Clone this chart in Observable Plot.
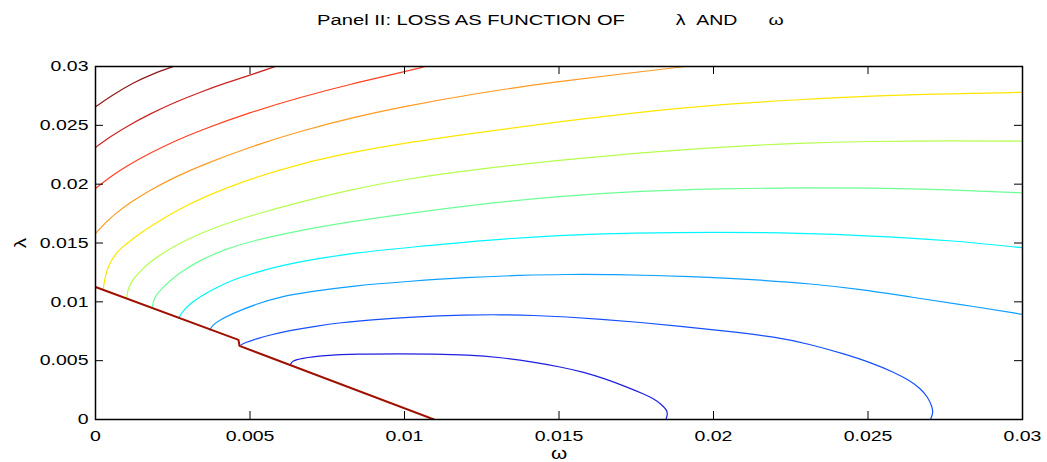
<!DOCTYPE html>
<html>
<head>
<meta charset="utf-8">
<script src="https://cdn.jsdelivr.net/npm/d3@7"></script>
<script src="https://cdn.jsdelivr.net/npm/@observablehq/plot@0.6"></script>
<style>
  html, body { margin: 0; padding: 0; background: #ffffff; }
  #chart svg { display: block; }
</style>
</head>
<body>
<div id="chart"></div>
<script>
// ---- Tick values and labels ----
const omegaTicks = [0, 0.005, 0.01, 0.015, 0.02, 0.025, 0.03];
const omegaTickLabels = ["0", "0.005", "0.01", "0.015", "0.02", "0.025", "0.03"];
const lambdaTicks = [0, 0.005, 0.01, 0.015, 0.02, 0.025, 0.03];
const lambdaTickLabels = ["0", "0.005", "0.01", "0.015", "0.02", "0.025", "0.03"];

// ---- Titles ----
const titleMain = "Panel II: LOSS AS FUNCTION OF";
const titleLambda = "λ\u00a0\u00a0AND";
const titleOmega = "ω";
const xLabel = "ω";
const yLabel = "λ";

// ---- Contour lines: [omega, lambda] ----
const contour1 = [[0, 0.026579], [0.000583, 0.027617], [0.001230, 0.028638], [0.001877, 0.029404], [0.002524, 0.03]];
const contour2 = [[0, 0.023123], [0.000485, 0.024043], [0.000971, 0.024851], [0.001780, 0.026000], [0.002589, 0.026979],
  [0.003398, 0.027830], [0.004207, 0.028596], [0.005016, 0.029277], [0.005825, 0.03]];
const contour3 = [[0, 0.019634], [0.000485, 0.020630], [0.000971, 0.021481], [0.001780, 0.022672], [0.002589, 0.023694],
  [0.003398, 0.024587], [0.005016, 0.026119], [0.006634, 0.027396], [0.008252, 0.028502], [0.010000, 0.029566], [0.010680, 0.03]];
const contour4 = [[0, 0.015804], [0.000324, 0.016740], [0.000647, 0.017506], [0.001133, 0.018459], [0.001780, 0.019515],
  [0.002589, 0.020621], [0.003398, 0.021574], [0.005016, 0.023191], [0.006634, 0.024511], [0.008252, 0.025617],
  [0.009871, 0.026553], [0.012557, 0.027830], [0.015016, 0.028732], [0.017411, 0.029489], [0.019094, 0.03]];
const contour5 = [[0.000249, 0.011064], [0.000307, 0.012085], [0.000388, 0.012809], [0.000485, 0.013387], [0.000647, 0.014043],
  [0.000809, 0.014528], [0.001133, 0.015209], [0.001456, 0.015830], [0.001780, 0.016400], [0.002589, 0.017702],
  [0.003398, 0.018809], [0.005016, 0.020468], [0.006634, 0.021745], [0.008252, 0.022681], [0.009871, 0.023447],
  [0.012557, 0.024451], [0.015016, 0.025302], [0.017411, 0.026068], [0.020227, 0.026783], [0.022816, 0.027191],
  [0.025049, 0.027498], [0.027670, 0.027694], [0.030000, 0.027804]];
const contour6 = [[0.001003, 0.010323], [0.001052, 0.011064], [0.001133, 0.011532], [0.001239, 0.011974], [0.001456, 0.012638],
  [0.001780, 0.013404], [0.002104, 0.014017], [0.002534, 0.014723], [0.003398, 0.015830], [0.004207, 0.016638],
  [0.005016, 0.017319], [0.006634, 0.018511], [0.008252, 0.019515], [0.009871, 0.020383], [0.012557, 0.021336],
  [0.015016, 0.022043], [0.017411, 0.022613], [0.020227, 0.023174], [0.022816, 0.023489], [0.025049, 0.023643],
  [0.027670, 0.023685], [0.030000, 0.023660]];
const contour7 = [[0.001835, 0.009506], [0.001877, 0.010128], [0.001974, 0.010596], [0.002104, 0.011021], [0.002427, 0.011830],
  [0.002751, 0.012511], [0.003398, 0.013574], [0.004207, 0.014468], [0.005016, 0.015149], [0.006634, 0.016085],
  [0.008252, 0.016809], [0.009871, 0.017421], [0.012557, 0.018357], [0.015016, 0.018979], [0.017411, 0.019404],
  [0.020227, 0.019634], [0.022816, 0.019702], [0.025049, 0.019685], [0.027670, 0.019532], [0.030000, 0.019260]];
const contour8 = [[0.002696, 0.008655], [0.002816, 0.009191], [0.003074, 0.009872], [0.003398, 0.010468], [0.003938, 0.011259],
  [0.004531, 0.011957], [0.005233, 0.012536], [0.005987, 0.013064], [0.006851, 0.013532], [0.008469, 0.014187],
  [0.010194, 0.014638], [0.012557, 0.015234], [0.015016, 0.015660], [0.017411, 0.015855], [0.020227, 0.015940],
  [0.022816, 0.015830], [0.025049, 0.015617], [0.027670, 0.015234], [0.030000, 0.014596]];
const contour9 = [[0.003699, 0.007600], [0.003786, 0.008000], [0.003981, 0.008383], [0.004369, 0.008936], [0.005233, 0.009847],
  [0.005987, 0.010426], [0.006851, 0.010834], [0.008469, 0.011404], [0.010032, 0.011719], [0.012029, 0.012085],
  [0.013754, 0.012255], [0.015266, 0.012340], [0.016667, 0.012323], [0.017961, 0.012255], [0.019903, 0.012085],
  [0.021521, 0.011847], [0.023139, 0.011549], [0.024757, 0.011064], [0.026375, 0.010409], [0.027994, 0.009787],
  [0.030000, 0.008936]];
const contour10 = [[0.004709, 0.006340], [0.004854, 0.006553], [0.005233, 0.006868], [0.005663, 0.007191], [0.006311, 0.007574],
  [0.007120, 0.007932], [0.007929, 0.008230], [0.008900, 0.008468], [0.010194, 0.008706], [0.012029, 0.008894],
  [0.013107, 0.008911], [0.014185, 0.008851], [0.015243, 0.008723], [0.016343, 0.008528], [0.017638, 0.008255],
  [0.018932, 0.007915], [0.020227, 0.007574], [0.022061, 0.007004], [0.023139, 0.006383], [0.024217, 0.005591],
  [0.025081, 0.004851], [0.025835, 0.004026], [0.026375, 0.003277], [0.026699, 0.002613], [0.026926, 0.001957],
  [0.027087, 0.001047], [0.027104, 0.000511], [0.027023, 0]];
const contour11 = [[0.006311, 0.004681], [0.006375, 0.004979], [0.006634, 0.005191], [0.007388, 0.005447], [0.008469, 0.005566],
  [0.009871, 0.005591], [0.010939, 0.005566], [0.012029, 0.005489], [0.013107, 0.005277], [0.014185, 0.004877],
  [0.015049, 0.004468], [0.015803, 0.004026], [0.016505, 0.003447], [0.017207, 0.002749], [0.017702, 0.002213],
  [0.018068, 0.001762], [0.018317, 0.001277], [0.018502, 0.000766], [0.018511, 0.000426], [0.018463, 0]];
const boundary = [[0, 0.011259], [0.004628, 0.006766], [0.004660, 0.006255], [0.010955, 0]];

const contours = [contour1, contour2, contour3, contour4, contour5, contour6,
  contour7, contour8, contour9, contour10, contour11];
const contourColors = ["#901818", "#cc2020", "#ff4020", "#ff9a20", "#ffe600", "#b4ff4c",
  "#6cff96", "#00f6ff", "#10a0ff", "#1450ff", "#1e1ee0"];
const boundaryColor = "#a01000";

const W = 1047, H = 462;
const font = "'Liberation Sans', Arial, Helvetica, sans-serif";

const marks = [];
contours.forEach((c, i) => {
  marks.push(Plot.line(c, {
    x: d => d[0], y: d => d[1], stroke: contourColors[i], strokeWidth: 1.2,
    curve: "basis", clip: true
  }));
});
marks.push(Plot.line(boundary, {x: d => d[0], y: d => d[1], stroke: boundaryColor, strokeWidth: 2, clip: true}));

// frame and inward ticks on all four sides
marks.push(Plot.frame({stroke: "black", strokeWidth: 1.5}));
marks.push(Plot.tickX(omegaTicks, {x: d => d, insetTop: 345, stroke: "black"}));
marks.push(Plot.tickX(omegaTicks, {x: d => d, insetBottom: 345, stroke: "black"}));
marks.push(Plot.tickY(lambdaTicks, {y: d => d, insetRight: 919, stroke: "black"}));
marks.push(Plot.tickY(lambdaTicks, {y: d => d, insetLeft: 919, stroke: "black"}));

// tick labels
marks.push(Plot.text(omegaTicks, {x: d => d, text: (d, i) => omegaTickLabels[i], frameAnchor: "bottom",
  lineAnchor: "top", dy: 11, fontSize: 15, fill: "black"}));
marks.push(Plot.text(lambdaTicks, {y: d => d, text: (d, i) => lambdaTickLabels[i], frameAnchor: "left",
  textAnchor: "end", dx: -7, fontSize: 15, fill: "black"}));

// axis labels
marks.push(Plot.text([xLabel], {text: d => d, frameAnchor: "bottom", lineAnchor: "bottom", dy: 39, fontSize: 16, fill: "black"}));
marks.push(Plot.text([yLabel], {text: d => d, frameAnchor: "left", textAnchor: "middle", lineAnchor: "bottom",
  rotate: -90, dx: -70, fontSize: 16, fill: "black"}));

// title pieces
marks.push(Plot.text([titleMain], {text: d => d, frameAnchor: "top", lineAnchor: "bottom", dy: -42, dx: -88, fontSize: 15.5, fill: "black"}));
marks.push(Plot.text([titleLambda], {text: d => d, frameAnchor: "top", lineAnchor: "bottom", dy: -42, dx: 147.5, fontSize: 15, fill: "black"}));
marks.push(Plot.text([titleOmega], {text: d => d, frameAnchor: "top", lineAnchor: "bottom", dy: -42, dx: 217, fontSize: 15, fill: "black"}));

const chart = Plot.plot({
  width: W,
  height: H,
  marginLeft: 95,
  marginRight: 25,
  marginTop: 66,
  marginBottom: 43,
  style: {fontFamily: font, background: "#ffffff", overflow: "visible"},
  x: {domain: [0, 0.03], axis: null},
  y: {domain: [0, 0.03], axis: null},
  marks
});

// the reference's lettering is horizontally wide; stretch glyphs around their anchors
chart.querySelectorAll("text").forEach(t => {
  const tr = t.getAttribute("transform") || "";
  t.setAttribute("transform", (tr + " scale(1.3,1)").trim());
});

document.getElementById("chart").appendChild(chart);
</script>
</body>
</html>
